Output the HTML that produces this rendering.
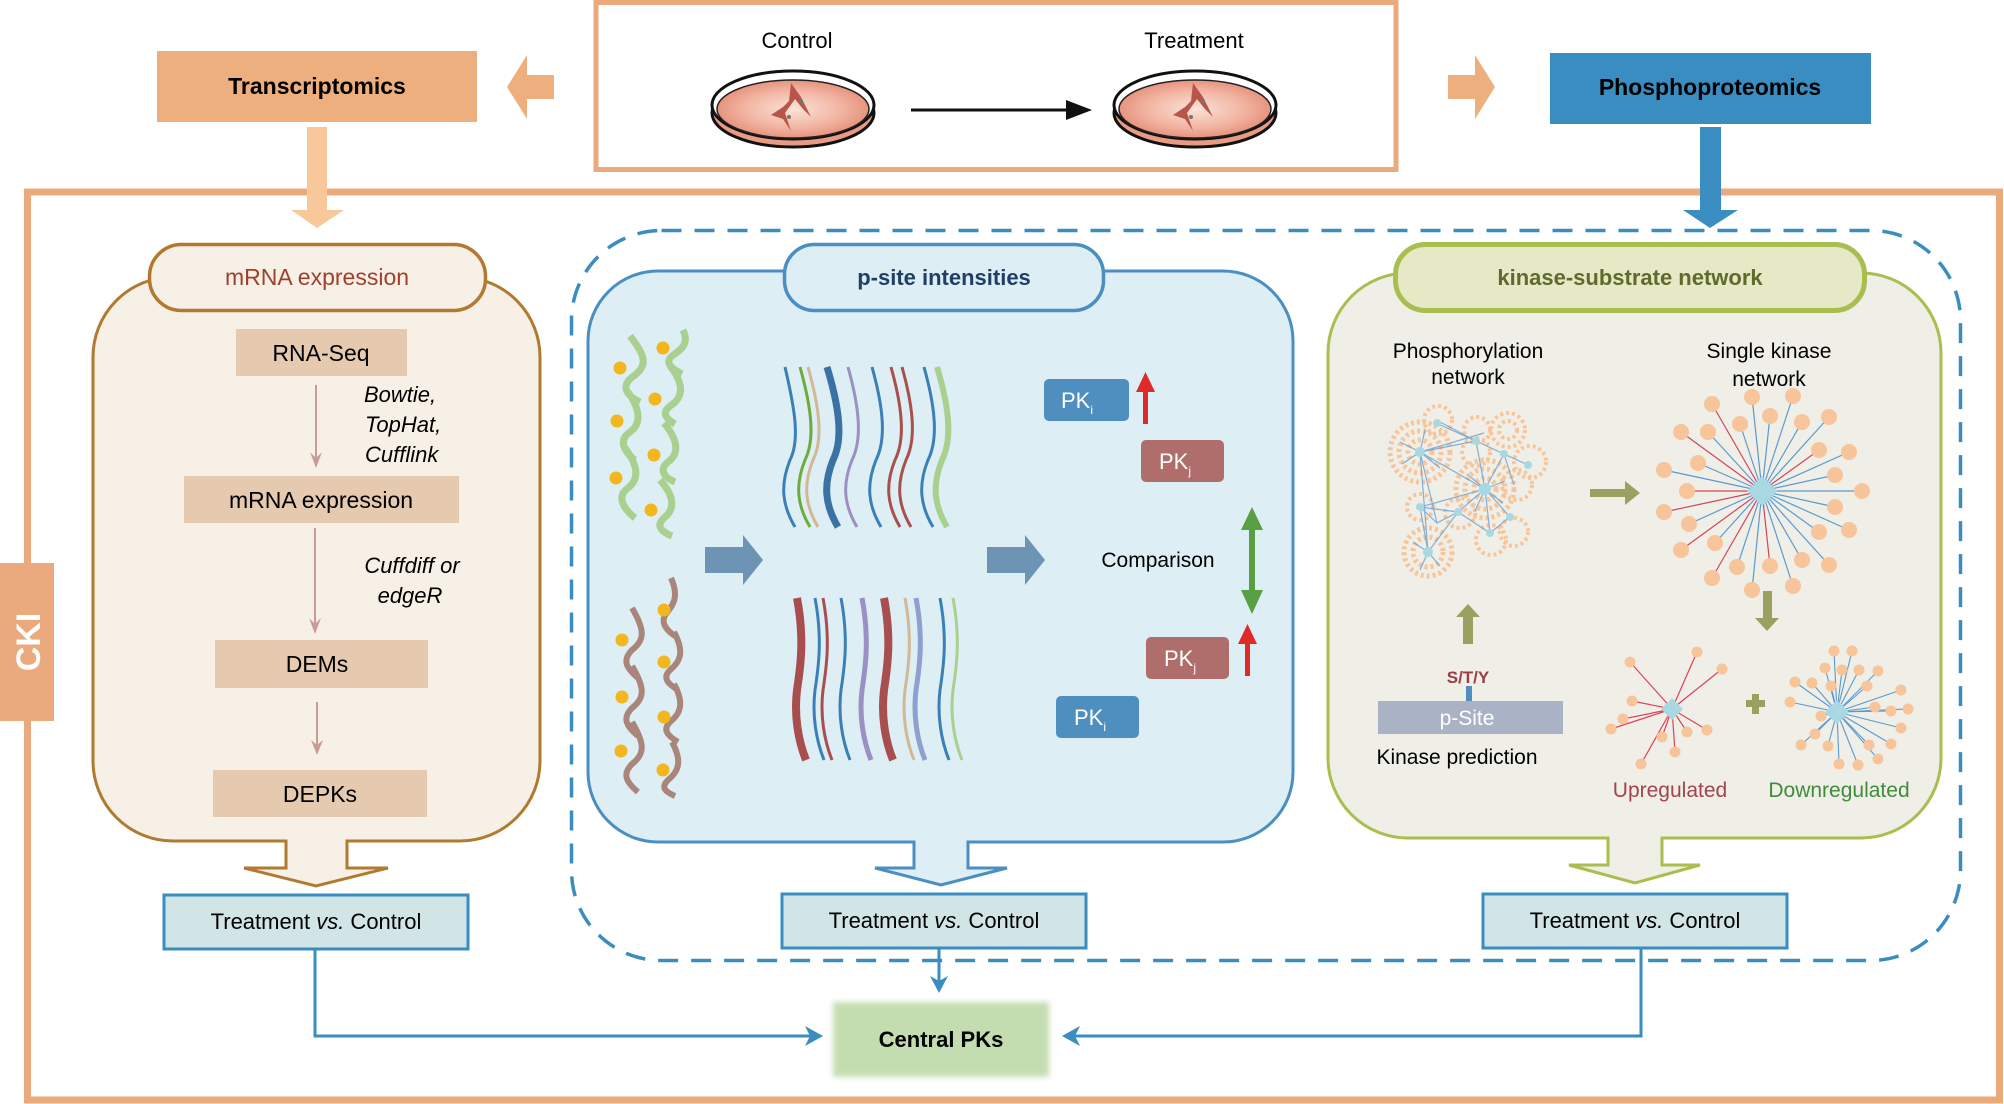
<!DOCTYPE html>
<html><head><meta charset="utf-8"><style>
html,body{margin:0;padding:0;background:#fff}
svg{display:block}
text{font-family:"Liberation Sans",Arial,sans-serif}
</style></head><body>
<svg width="2004" height="1104" viewBox="0 0 2004 1104" xmlns="http://www.w3.org/2000/svg">
<defs>
<radialGradient id="dish" cx="50%" cy="50%" r="55%">
<stop offset="0" stop-color="#FBE3D8"/><stop offset="0.6" stop-color="#F1B3A0"/><stop offset="1" stop-color="#E48A74"/>
</radialGradient>
<filter id="blur"><feGaussianBlur stdDeviation="3"/></filter>
<g id="dishg">
<ellipse cx="0" cy="8" rx="81" ry="34" fill="#E99A84" stroke="#111" stroke-width="3"/>
<ellipse cx="0" cy="0" rx="81" ry="34" fill="#fff" stroke="#111" stroke-width="3"/>
<ellipse cx="0" cy="4" rx="76" ry="29" fill="url(#dish)" stroke="#222" stroke-width="1.5"/>
<path d="M-2,-22 L8,-8 L18,12 L10,4 L2,-6 L-8,8 L-2,26 L-10,14 L-22,10 L-10,2 L-4,-4 Z" fill="#B8554A"/>
<circle cx="-4" cy="12" r="2" fill="#6E7A70"/><circle cx="8" cy="-4" r="2" fill="#6E7A70"/>
</g>
</defs>

<rect x="27.5" y="192" width="1972" height="908" fill="none" stroke="#EBAA7E" stroke-width="7"/>
<rect x="0" y="563" width="54" height="158" fill="#EBAA7E"/>
<text transform="translate(40,642) rotate(-90)" text-anchor="middle" font-size="34" font-weight="bold" fill="#fff">CKI</text>

<rect x="596" y="2.5" width="800" height="167" fill="#fff" stroke="#EBAA7E" stroke-width="5"/>
<text x="797" y="48" text-anchor="middle" font-size="22">Control</text>
<text x="1194" y="48" text-anchor="middle" font-size="22">Treatment</text>
<use href="#dishg" x="793" y="105"/>
<use href="#dishg" x="1195" y="105"/>
<line x1="911" y1="110" x2="1070" y2="110" stroke="#111" stroke-width="3"/>
<polygon points="1092,110 1066,100 1066,120" fill="#111"/>

<rect x="157" y="51" width="320" height="71" fill="#EDAF7D"/>
<text x="317" y="94" text-anchor="middle" font-size="23" font-weight="bold">Transcriptomics</text>
<polygon points="507,87 527,55 527,75 554,75 554,99 527,99 527,119" fill="#EDAF7D"/>
<rect x="307" y="127" width="20" height="84" fill="#F8C89A"/>
<polygon points="291,210 344,210 317,228" fill="#F8C89A"/>

<rect x="1550" y="53" width="321" height="71" fill="#398DC0"/>
<text x="1710" y="95" text-anchor="middle" font-size="23" font-weight="bold">Phosphoproteomics</text>
<polygon points="1495,87 1475,55 1475,75 1448,75 1448,99 1475,99 1475,119" fill="#EDAF7D"/>
<rect x="1700" y="127" width="21" height="84" fill="#3A8DC0"/>
<polygon points="1683,210 1738,210 1710,228" fill="#3A8DC0"/>

<rect x="571.5" y="230.5" width="1389" height="730" rx="90" ry="90" fill="none" stroke="#3A8DC0" stroke-width="3.5" stroke-dasharray="20 13"/>

<path d="M93,357 A80,80 0 0 1 173,277 H460 A80,80 0 0 1 540,357 V761 A80,80 0 0 1 460,841 H347 V868 H388 L316,886 L244,868 H286 V841 H173 A80,80 0 0 1 93,761 Z" fill="#F7F0E6" stroke="#B07A30" stroke-width="3"/>
<rect x="149.5" y="244.5" width="336" height="66" rx="32" fill="#F7F0E6" stroke="#B07A30" stroke-width="3.5"/>
<text x="317" y="285" text-anchor="middle" font-size="23" fill="#A0402A">mRNA expression</text>
<rect x="236" y="329" width="171" height="47" fill="#E5CAAF"/>
<text x="321" y="361" text-anchor="middle" font-size="23">RNA-Seq</text>
<line x1="316" y1="385" x2="316" y2="464" stroke="#C99A98" stroke-width="2"/>
<polygon points="316,468 310,452 316,458 322,452" fill="#C99A98"/>
<text font-size="22" font-style="italic"><tspan x="364" y="402">Bowtie,</tspan><tspan x="365" y="432">TopHat,</tspan><tspan x="365" y="462">Cufflink</tspan></text>
<rect x="184" y="476" width="275" height="47" fill="#E5CAAF"/>
<text x="321" y="508" text-anchor="middle" font-size="23">mRNA expression</text>
<line x1="315" y1="528" x2="315" y2="630" stroke="#C99A98" stroke-width="2"/>
<polygon points="315,634 309,618 315,624 321,618" fill="#C99A98"/>
<text font-size="22" font-style="italic" text-anchor="middle"><tspan x="412" y="573">Cuffdiff or</tspan><tspan x="410" y="603">edgeR</tspan></text>
<rect x="215" y="640" width="213" height="48" fill="#E5CAAF"/>
<text x="317" y="672" text-anchor="middle" font-size="23">DEMs</text>
<line x1="317" y1="702" x2="317" y2="752" stroke="#C99A98" stroke-width="2"/>
<polygon points="317,755 311,740 317,745 323,740" fill="#C99A98"/>
<rect x="213" y="770" width="214" height="47" fill="#E5CAAF"/>
<text x="320" y="802" text-anchor="middle" font-size="23">DEPKs</text>

<path d="M588,341 A70,70 0 0 1 658,271 H1223 A70,70 0 0 1 1293,341 V772 A70,70 0 0 1 1223,842 H968 V868 H1007 L941,885 L875,868 H914 V842 H658 A70,70 0 0 1 588,772 Z" fill="#DDEEF4" stroke="#4A8EC2" stroke-width="3"/>
<rect x="784.5" y="244.5" width="319" height="66" rx="30" fill="#DDEEF4" stroke="#4A8EC2" stroke-width="3.5"/>
<text x="944" y="285" text-anchor="middle" font-size="22" font-weight="bold" fill="#1E3F66">p-site intensities</text>

<g fill="none" stroke="#A9D08E" stroke-width="7">
<path d="M630,336 C645,355 648,365 635,375 C620,385 625,395 640,402"/>
<path d="M628,392 C642,412 640,425 630,432 C618,440 624,452 635,460"/>
<path d="M625,448 C640,468 638,480 628,488 C615,497 625,510 635,518"/>
<path d="M683,330 C690,345 680,350 672,356 C665,362 670,368 682,374"/>
<path d="M670,366 C685,385 683,398 670,406 C660,414 668,420 675,424"/>
<path d="M664,423 C680,442 678,455 668,462 C658,470 665,478 675,482"/>
<path d="M660,480 C676,498 674,510 664,518 C655,526 662,532 672,536"/>
</g>
<g fill="#F2B61E"><circle cx="620" cy="368" r="6.5"/><circle cx="617" cy="421" r="6.5"/><circle cx="616" cy="478" r="6.5"/><circle cx="663" cy="348" r="6.5"/><circle cx="655" cy="399" r="6.5"/><circle cx="654" cy="455" r="6.5"/><circle cx="651" cy="510" r="6.5"/></g>

<g fill="none" stroke="#A9857A" stroke-width="6">
<path d="M632,608 C645,630 645,640 632,650 C622,660 626,668 638,678"/>
<path d="M632,666 C645,688 645,698 632,708 C622,718 626,726 638,736"/>
<path d="M632,722 C645,744 645,754 632,764 C622,774 626,782 638,792"/>
<path d="M671,578 C680,598 672,606 666,614 C660,622 666,630 675,636"/>
<path d="M674,632 C685,652 680,662 670,670 C662,678 668,684 678,690"/>
<path d="M674,684 C685,704 680,714 670,722 C662,730 668,736 678,742"/>
<path d="M672,742 C683,762 678,772 668,780 C660,788 666,792 675,796"/>
</g>
<g fill="#F2B61E"><circle cx="622" cy="640" r="6.5"/><circle cx="622" cy="697" r="6.5"/><circle cx="621" cy="751" r="6.5"/><circle cx="664" cy="610" r="6.5"/><circle cx="664" cy="662" r="6.5"/><circle cx="664" cy="717" r="6.5"/><circle cx="663" cy="770" r="6.5"/></g>

<g fill="none">
<path d="M785,367 C795,410 800,440 790,460 C780,485 782,505 795,527" stroke="#3A7FB5" stroke-width="3"/>
<path d="M800,367 C812,410 815,440 805,460 C795,485 797,505 810,527" stroke="#6FAA3C" stroke-width="3"/>
<path d="M808,367 C820,410 823,440 813,460 C803,485 805,505 818,527" stroke="#D2B894" stroke-width="3"/>
<path d="M827,367 C840,410 843,440 833,460 C823,485 825,505 838,527" stroke="#3A72A4" stroke-width="7"/>
<path d="M848,367 C860,410 862,440 852,460 C842,485 844,505 857,527" stroke="#9B8FC4" stroke-width="3"/>
<path d="M872,367 C884,410 886,440 876,460 C866,485 868,505 881,527" stroke="#3A7FB5" stroke-width="3"/>
<path d="M891,367 C903,410 905,440 895,460 C885,485 887,505 900,527" stroke="#A8504E" stroke-width="3"/>
<path d="M902,367 C914,410 916,440 906,460 C896,485 898,505 911,527" stroke="#A8504E" stroke-width="3"/>
<path d="M924,367 C936,410 938,440 928,460 C918,485 920,505 933,527" stroke="#3A7FB5" stroke-width="3"/>
<path d="M937,367 C950,410 952,440 942,460 C932,485 934,505 947,527" stroke="#A9D08E" stroke-width="6"/>
</g>
<g fill="none">
<path d="M797,598 C805,640 800,670 797,690 C794,715 798,740 806,760" stroke="#A84E4E" stroke-width="8"/>
<path d="M815,598 C823,640 818,670 815,690 C812,715 816,740 824,760" stroke="#3A7FB5" stroke-width="3"/>
<path d="M823,598 C831,640 826,670 823,690 C820,715 824,740 832,760" stroke="#A84E4E" stroke-width="3"/>
<path d="M841,598 C849,640 844,670 841,690 C838,715 842,740 850,760" stroke="#3A7FB5" stroke-width="3"/>
<path d="M862,598 C870,640 865,670 862,690 C859,715 863,740 871,760" stroke="#9B8FC4" stroke-width="5"/>
<path d="M884,598 C892,640 887,670 884,690 C881,715 885,740 893,760" stroke="#A84E4E" stroke-width="8"/>
<path d="M905,598 C913,640 908,670 905,690 C902,715 906,740 914,760" stroke="#D2B894" stroke-width="3"/>
<path d="M916,598 C924,640 919,670 916,690 C913,715 917,740 925,760" stroke="#8F9FD0" stroke-width="5"/>
<path d="M940,598 C948,640 943,670 940,690 C937,715 941,740 949,760" stroke="#3A7FB5" stroke-width="3"/>
<path d="M953,598 C961,640 956,670 953,690 C950,715 954,740 962,760" stroke="#A9D08E" stroke-width="3"/>
</g>
<polygon points="705,547 743,547 743,535 763,560 743,585 743,573 705,573" fill="#6D94B4"/>
<polygon points="987,547 1025,547 1025,535 1045,560 1025,585 1025,573 987,573" fill="#6D94B4"/>
<text x="1158" y="567" text-anchor="middle" font-size="21">Comparison</text>
<rect x="1249" y="525" width="6" height="72" fill="#58A043"/>
<polygon points="1252,507 1263,530 1241,530" fill="#58A043"/>
<polygon points="1252,614 1263,590 1241,590" fill="#58A043"/>
<rect x="1044" y="379" width="85" height="42" rx="5" fill="#4F8FBF"/>
<text x="1077" y="408" text-anchor="middle" font-size="22" fill="#fff">PK<tspan font-size="12" dy="6">i</tspan></text>
<rect x="1143" y="388" width="5" height="36" fill="#DF2A2A"/><polygon points="1145.5,372 1155,392 1136,392" fill="#DF2A2A"/>
<rect x="1141" y="440" width="83" height="42" rx="5" fill="#AF6E6C"/>
<text x="1175" y="469" text-anchor="middle" font-size="22" fill="#fff">PK<tspan font-size="12" dy="6">j</tspan></text>
<rect x="1146" y="637" width="83" height="42" rx="5" fill="#AF6E6C"/>
<text x="1180" y="666" text-anchor="middle" font-size="22" fill="#fff">PK<tspan font-size="12" dy="6">j</tspan></text>
<rect x="1245" y="640" width="5" height="36" fill="#DF2A2A"/><polygon points="1247.5,624 1257,644 1238,644" fill="#DF2A2A"/>
<rect x="1056" y="696" width="83" height="42" rx="5" fill="#4F8FBF"/>
<text x="1090" y="725" text-anchor="middle" font-size="22" fill="#fff">PK<tspan font-size="12" dy="6">i</tspan></text>

<path d="M1328,353 A80,80 0 0 1 1408,273 H1861 A80,80 0 0 1 1941,353 V758 A80,80 0 0 1 1861,838 H1662 V865 H1700 L1635,883 L1569,865 H1608 V838 H1408 A80,80 0 0 1 1328,758 Z" fill="#EFEFE8" stroke="#A9BE4E" stroke-width="3"/>
<rect x="1395.5" y="244.5" width="469" height="66" rx="30" fill="#E6E8C6" stroke="#A9BE4E" stroke-width="5"/>
<text x="1630" y="285" text-anchor="middle" font-size="22" font-weight="bold" fill="#5E6B2A">kinase-substrate network</text>
<text font-size="21" text-anchor="middle"><tspan x="1468" y="358">Phosphorylation</tspan><tspan x="1468" y="384">network</tspan></text>
<text font-size="21" text-anchor="middle"><tspan x="1769" y="358">Single kinase</tspan><tspan x="1769" y="386">network</tspan></text>

<!-- phosphorylation network -->
<g fill="none" stroke="#F8C499">
<circle cx="1420" cy="452" r="30" stroke-width="5" stroke-dasharray="3 3"/>
<circle cx="1420" cy="452" r="21" stroke-width="5" stroke-dasharray="3 3"/>
<circle cx="1420" cy="452" r="12" stroke-width="5" stroke-dasharray="3 3"/>
<circle cx="1485" cy="489" r="29" stroke-width="5" stroke-dasharray="3 3"/>
<circle cx="1485" cy="489" r="20" stroke-width="5" stroke-dasharray="3 3"/>
<circle cx="1485" cy="489" r="11" stroke-width="5" stroke-dasharray="3 3"/>
<circle cx="1428" cy="552" r="24" stroke-width="5" stroke-dasharray="3 3"/>
<circle cx="1428" cy="552" r="15" stroke-width="5" stroke-dasharray="3 3"/>
<circle cx="1438" cy="420" r="14" stroke-width="4" stroke-dasharray="3 3"/>
<circle cx="1477" cy="430" r="13" stroke-width="4" stroke-dasharray="3 3"/>
<circle cx="1508" cy="430" r="17" stroke-width="4" stroke-dasharray="3 3"/>
<circle cx="1508" cy="430" r="9" stroke-width="4" stroke-dasharray="3 3"/>
<circle cx="1530" cy="462" r="16" stroke-width="4" stroke-dasharray="3 3"/>
<circle cx="1517" cy="485" r="15" stroke-width="4" stroke-dasharray="3 3"/>
<circle cx="1420" cy="507" r="13" stroke-width="4" stroke-dasharray="3 3"/>
<circle cx="1460" cy="513" r="15" stroke-width="4" stroke-dasharray="3 3"/>
<circle cx="1491" cy="540" r="15" stroke-width="4" stroke-dasharray="3 3"/>
<circle cx="1514" cy="532" r="14" stroke-width="4" stroke-dasharray="3 3"/>
<circle cx="1476" cy="452" r="14" stroke-width="4" stroke-dasharray="3 3"/>
</g>
<g stroke="#6FA5D6" stroke-width="1.2" fill="none" opacity="0.85">
<path d="M1420,452 L1476,441 L1504,454 L1485,489 L1420,452 L1484,433 M1420,452 L1437,523 L1458,512 L1485,489 L1490,533 L1510,517 L1485,489 L1420,507 L1437,523 M1476,441 L1438,424 M1504,454 L1528,465 M1458,512 L1490,533 M1420,507 L1458,512 M1440,422 L1476,441 M1485,489 L1504,454 L1514,485 M1428,552 L1458,512 M1428,552 L1420,507 M1420,452 L1428,552 M1476,441 L1485,489"/>
<path d="M1420,452 l-20,-10 M1420,452 l-18,12 M1420,452 l5,-22 M1420,452 l20,16 M1485,489 l-18,-15 M1485,489 l20,-8 M1485,489 l-10,22 M1485,489 l18,14 M1428,552 l-15,-10 M1428,552 l12,14 M1428,552 l-8,18"/>
</g>
<g fill="#A8D8E2">
<circle cx="1420" cy="452" r="5"/><circle cx="1485" cy="489" r="6"/><circle cx="1428" cy="552" r="5"/><circle cx="1476" cy="441" r="4"/><circle cx="1504" cy="454" r="4"/><circle cx="1437" cy="423" r="4"/><circle cx="1510" cy="517" r="4"/><circle cx="1458" cy="512" r="4"/><circle cx="1490" cy="533" r="4"/><circle cx="1420" cy="507" r="4"/><circle cx="1528" cy="465" r="4"/>
</g>
<polygon points="1590,489 1625,489 1625,481 1640,493 1625,505 1625,497 1590,497" fill="#9AA160"/>
<polygon points="1463,644 1473,644 1473,617 1480,617 1468,604 1456,617 1463,617" fill="#9AA160"/>
<polygon points="1763,591 1772,591 1772,618 1779,618 1767,631 1755,618 1763,618" fill="#9AA160"/>

<g stroke="#5A9AD0" stroke-width="1.2">
<line x1="1762" y1="491" x2="1862" y2="491"/><line x1="1762" y1="491" x2="1835" y2="475"/><line x1="1762" y1="491" x2="1849" y2="452"/><line x1="1762" y1="491" x2="1819" y2="450" stroke="#D0455A"/><line x1="1762" y1="491" x2="1829" y2="417"/><line x1="1762" y1="491" x2="1802" y2="422"/><line x1="1762" y1="491" x2="1793" y2="396"/><line x1="1762" y1="491" x2="1770" y2="416"/><line x1="1762" y1="491" x2="1752" y2="397"/><line x1="1762" y1="491" x2="1740" y2="424"/><line x1="1762" y1="491" x2="1712" y2="404" stroke="#D0455A"/><line x1="1762" y1="491" x2="1708" y2="432"/><line x1="1762" y1="491" x2="1681" y2="432" stroke="#D0455A"/><line x1="1762" y1="491" x2="1698" y2="463"/><line x1="1762" y1="491" x2="1664" y2="470"/><line x1="1762" y1="491" x2="1687" y2="491" stroke="#D0455A"/><line x1="1762" y1="491" x2="1664" y2="512" stroke="#D0455A"/><line x1="1762" y1="491" x2="1689" y2="524"/><line x1="1762" y1="491" x2="1681" y2="550" stroke="#D0455A"/><line x1="1762" y1="491" x2="1715" y2="543"/><line x1="1762" y1="491" x2="1712" y2="578" stroke="#D0455A"/><line x1="1762" y1="491" x2="1737" y2="567"/><line x1="1762" y1="491" x2="1752" y2="590"/><line x1="1762" y1="491" x2="1770" y2="566" stroke="#D0455A"/><line x1="1762" y1="491" x2="1793" y2="586"/><line x1="1762" y1="491" x2="1802" y2="560"/><line x1="1762" y1="491" x2="1829" y2="565"/><line x1="1762" y1="491" x2="1819" y2="532"/><line x1="1762" y1="491" x2="1849" y2="530"/><line x1="1762" y1="491" x2="1835" y2="507"/>
</g>
<g fill="#F8C499">
<circle cx="1862" cy="491" r="8"/><circle cx="1835" cy="475" r="8"/><circle cx="1849" cy="452" r="8"/><circle cx="1819" cy="450" r="8"/><circle cx="1829" cy="417" r="8"/><circle cx="1802" cy="422" r="8"/><circle cx="1793" cy="396" r="8"/><circle cx="1770" cy="416" r="8"/><circle cx="1752" cy="397" r="8"/><circle cx="1740" cy="424" r="8"/><circle cx="1712" cy="404" r="8"/><circle cx="1708" cy="432" r="8"/><circle cx="1681" cy="432" r="8"/><circle cx="1698" cy="463" r="8"/><circle cx="1664" cy="470" r="8"/><circle cx="1687" cy="491" r="8"/><circle cx="1664" cy="512" r="8"/><circle cx="1689" cy="524" r="8"/><circle cx="1681" cy="550" r="8"/><circle cx="1715" cy="543" r="8"/><circle cx="1712" cy="578" r="8"/><circle cx="1737" cy="567" r="8"/><circle cx="1752" cy="590" r="8"/><circle cx="1770" cy="566" r="8"/><circle cx="1793" cy="586" r="8"/><circle cx="1802" cy="560" r="8"/><circle cx="1829" cy="565" r="8"/><circle cx="1819" cy="532" r="8"/><circle cx="1849" cy="530" r="8"/><circle cx="1835" cy="507" r="8"/>
</g>
<polygon points="1762,476 1777,491 1762,506 1747,491" fill="#A8D8E2"/>

<g stroke="#E0405A" stroke-width="1.2">
<line x1="1672" y1="709" x2="1630" y2="662"/><line x1="1672" y1="709" x2="1697" y2="652"/><line x1="1672" y1="709" x2="1722" y2="669"/><line x1="1672" y1="709" x2="1632" y2="701"/><line x1="1672" y1="709" x2="1623" y2="719"/><line x1="1672" y1="709" x2="1611" y2="729"/><line x1="1672" y1="709" x2="1662" y2="737"/><line x1="1672" y1="709" x2="1687" y2="732"/><line x1="1672" y1="709" x2="1707" y2="730"/><line x1="1672" y1="709" x2="1675" y2="752"/><line x1="1672" y1="709" x2="1641" y2="764"/>
</g>
<g fill="#F8C499">
<circle cx="1630" cy="662" r="5.5"/><circle cx="1697" cy="652" r="5.5"/><circle cx="1722" cy="669" r="5.5"/><circle cx="1632" cy="701" r="5.5"/><circle cx="1623" cy="719" r="5.5"/><circle cx="1611" cy="729" r="5.5"/><circle cx="1662" cy="737" r="5.5"/><circle cx="1687" cy="732" r="5.5"/><circle cx="1707" cy="730" r="5.5"/><circle cx="1675" cy="752" r="5.5"/><circle cx="1641" cy="764" r="5.5"/>
</g>
<polygon points="1672,698 1683,709 1672,720 1661,709" fill="#A8D8E2"/>
<g stroke="#5A9AD0" stroke-width="1.1">
<line x1="1837" y1="712" x2="1834" y2="651"/><line x1="1837" y1="712" x2="1852" y2="651"/><line x1="1837" y1="712" x2="1825" y2="668"/><line x1="1837" y1="712" x2="1842" y2="670"/><line x1="1837" y1="712" x2="1859" y2="670"/><line x1="1837" y1="712" x2="1878" y2="671"/><line x1="1837" y1="712" x2="1795" y2="682"/><line x1="1837" y1="712" x2="1812" y2="683"/><line x1="1837" y1="712" x2="1831" y2="686"/><line x1="1837" y1="712" x2="1867" y2="686"/><line x1="1837" y1="712" x2="1901" y2="690"/><line x1="1837" y1="712" x2="1790" y2="702"/><line x1="1837" y1="712" x2="1875" y2="707"/><line x1="1837" y1="712" x2="1891" y2="711"/><line x1="1837" y1="712" x2="1908" y2="709"/><line x1="1837" y1="712" x2="1821" y2="716"/><line x1="1837" y1="712" x2="1901" y2="728"/><line x1="1837" y1="712" x2="1815" y2="734"/><line x1="1837" y1="712" x2="1801" y2="745"/><line x1="1837" y1="712" x2="1828" y2="746"/><line x1="1837" y1="712" x2="1869" y2="745"/><line x1="1837" y1="712" x2="1891" y2="744"/><line x1="1837" y1="712" x2="1878" y2="759"/><line x1="1837" y1="712" x2="1839" y2="764"/><line x1="1837" y1="712" x2="1858" y2="765"/>
</g>
<g fill="#F8C499">
<circle cx="1834" cy="651" r="5.5"/><circle cx="1852" cy="651" r="5.5"/><circle cx="1825" cy="668" r="5.5"/><circle cx="1842" cy="670" r="5.5"/><circle cx="1859" cy="670" r="5.5"/><circle cx="1878" cy="671" r="5.5"/><circle cx="1795" cy="682" r="5.5"/><circle cx="1812" cy="683" r="5.5"/><circle cx="1831" cy="686" r="5.5"/><circle cx="1867" cy="686" r="5.5"/><circle cx="1901" cy="690" r="5.5"/><circle cx="1790" cy="702" r="5.5"/><circle cx="1875" cy="707" r="5.5"/><circle cx="1891" cy="711" r="5.5"/><circle cx="1908" cy="709" r="5.5"/><circle cx="1821" cy="716" r="5.5"/><circle cx="1901" cy="728" r="5.5"/><circle cx="1815" cy="734" r="5.5"/><circle cx="1801" cy="745" r="5.5"/><circle cx="1828" cy="746" r="5.5"/><circle cx="1869" cy="745" r="5.5"/><circle cx="1891" cy="744" r="5.5"/><circle cx="1878" cy="759" r="5.5"/><circle cx="1839" cy="764" r="5.5"/><circle cx="1858" cy="765" r="5.5"/>
</g>
<polygon points="1837,700 1849,712 1837,724 1825,712" fill="#A8D8E2"/>
<rect x="1752" y="694" width="7" height="20" fill="#9AA160"/><rect x="1746" y="700" width="19" height="7" fill="#9AA160"/>
<text x="1670" y="797" text-anchor="middle" font-size="21" fill="#A2434F">Upregulated</text>
<text x="1839" y="797" text-anchor="middle" font-size="21" fill="#3F8C3A">Downregulated</text>

<text x="1468" y="683" text-anchor="middle" font-size="17" font-weight="bold" fill="#9B3C45">S/T/Y</text>
<rect x="1466" y="686" width="6" height="15" fill="#4F8FBF"/>
<rect x="1378" y="701" width="185" height="33" fill="#A9B3C5"/>
<text x="1467" y="725" text-anchor="middle" font-size="21" fill="#fff">p-Site</text>
<text x="1457" y="764" text-anchor="middle" font-size="21">Kinase prediction</text>

<g fill="#D1E5E6" stroke="#3A8DC0" stroke-width="3">
<rect x="164" y="895" width="304" height="54"/>
<rect x="782" y="894" width="304" height="54"/>
<rect x="1483" y="894" width="304" height="54"/>
</g>
<g font-size="22" text-anchor="middle">
<text x="316" y="929">Treatment <tspan font-style="italic">vs.</tspan> Control</text>
<text x="934" y="928">Treatment <tspan font-style="italic">vs.</tspan> Control</text>
<text x="1635" y="928">Treatment <tspan font-style="italic">vs.</tspan> Control</text>
</g>
<rect x="833" y="1002" width="216" height="75" fill="#C4DDB0" filter="url(#blur)"/>
<text x="941" y="1047" text-anchor="middle" font-size="22" font-weight="bold">Central PKs</text>
<g fill="none" stroke="#3A8DC0" stroke-width="3">
<polyline points="315,949 315,1036 812,1036"/>
<polyline points="1641,948 1641,1036 1072,1036"/>
<line x1="939" y1="948" x2="939" y2="982"/>
</g>
<polygon points="823,1036 805,1026 810,1036 805,1046" fill="#3A8DC0"/>
<polygon points="1062,1036 1080,1026 1075,1036 1080,1046" fill="#3A8DC0"/>
<polygon points="939,993 930,976 939,981 948,976" fill="#3A8DC0"/>
</svg>
</body></html>
